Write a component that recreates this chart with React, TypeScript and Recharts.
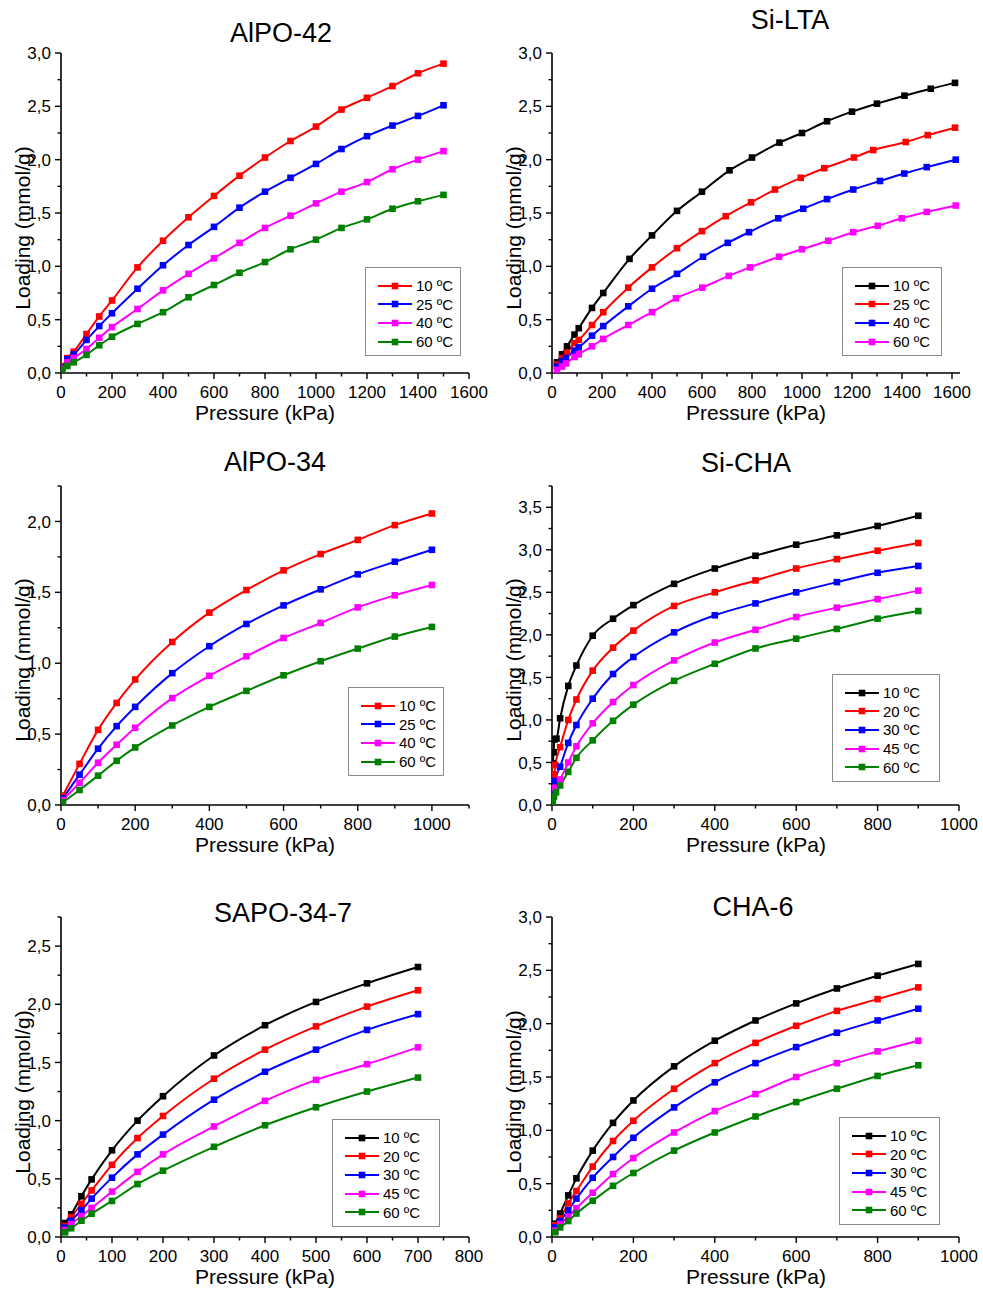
import React from 'react'
import { LineChart, Line, XAxis, YAxis } from 'recharts'

const FONT = '"Liberation Sans", Arial, Helvetica, sans-serif'

const BLACK = '#000000'
const RED = '#ff0000'
const BLUE = '#0000ff'
const MAGENTA = '#ff00ff'
const GREEN = '#008000'

// ---------- AlPO-42 ----------
const alpo42P = [5, 25, 50, 100, 150, 200, 300, 400, 500, 600, 700, 800, 900, 1000, 1100, 1200, 1300, 1400, 1500]
const alpo42T10 = [0.06, 0.14, 0.2, 0.365, 0.53, 0.68, 0.99, 1.24, 1.46, 1.66, 1.85, 2.02, 2.175, 2.31, 2.47, 2.58, 2.69, 2.81, 2.9]
const alpo42T25 = [0.05, 0.13, 0.175, 0.31, 0.44, 0.56, 0.79, 1.01, 1.2, 1.37, 1.55, 1.7, 1.83, 1.96, 2.1, 2.22, 2.32, 2.41, 2.51]
const alpo42T40 = [0.04, 0.1, 0.14, 0.225, 0.33, 0.43, 0.6, 0.775, 0.93, 1.075, 1.22, 1.36, 1.475, 1.59, 1.7, 1.79, 1.91, 2.0, 2.08]
const alpo42T60 = [0.03, 0.066, 0.1, 0.17, 0.26, 0.34, 0.46, 0.57, 0.71, 0.825, 0.94, 1.04, 1.16, 1.25, 1.36, 1.44, 1.54, 1.61, 1.67]

// ---------- Si-LTA ----------
const silta10P = [20, 40, 60, 90, 107, 160, 205, 310, 400, 500, 600, 710, 800, 910, 1000, 1100, 1200, 1300, 1410, 1515, 1612]
const silta10 = [0.1, 0.175, 0.25, 0.36, 0.42, 0.61, 0.75, 1.07, 1.29, 1.52, 1.7, 1.9, 2.02, 2.16, 2.25, 2.36, 2.45, 2.525, 2.6, 2.665, 2.72]
const silta25P = [20, 40, 60, 90, 107, 160, 205, 305, 400, 500, 600, 695, 796, 892, 995, 1089, 1208, 1285, 1415, 1503, 1612]
const silta25 = [0.08, 0.14, 0.19, 0.28, 0.31, 0.45, 0.57, 0.8, 0.99, 1.17, 1.33, 1.47, 1.6, 1.72, 1.83, 1.92, 2.02, 2.09, 2.165, 2.23, 2.3]
const silta40P = [20, 40, 56, 90, 107, 160, 205, 305, 400, 500, 604, 703, 788, 905, 1005, 1100, 1205, 1312, 1409, 1499, 1615]
const silta40 = [0.06, 0.11, 0.14, 0.21, 0.24, 0.35, 0.44, 0.625, 0.79, 0.93, 1.09, 1.22, 1.32, 1.45, 1.54, 1.63, 1.72, 1.8, 1.87, 1.93, 2.0]
const silta60P = [20, 40, 56, 90, 107, 160, 205, 305, 400, 496, 601, 707, 792, 908, 1000, 1105, 1205, 1303, 1399, 1499, 1615]
const silta60 = [0.03, 0.06, 0.09, 0.15, 0.175, 0.25, 0.32, 0.45, 0.57, 0.7, 0.8, 0.91, 0.99, 1.09, 1.16, 1.24, 1.32, 1.38, 1.45, 1.51, 1.57]

// ---------- AlPO-34 ----------
const alpo34P = [5, 50, 100, 150, 200, 300, 400, 500, 600, 700, 800, 900, 1000]
const alpo34T10 = [0.066, 0.29, 0.53, 0.72, 0.885, 1.15, 1.357, 1.516, 1.655, 1.77, 1.87, 1.974, 2.056]
const alpo34T25 = [0.047, 0.214, 0.397, 0.556, 0.692, 0.93, 1.12, 1.277, 1.408, 1.521, 1.627, 1.716, 1.8]
const alpo34T40 = [0.035, 0.157, 0.298, 0.425, 0.545, 0.754, 0.911, 1.049, 1.178, 1.284, 1.394, 1.479, 1.552]
const alpo34T60 = [0.019, 0.106, 0.207, 0.312, 0.406, 0.561, 0.692, 0.805, 0.915, 1.014, 1.103, 1.188, 1.256]

// ---------- Si-CHA ----------
const sicha10P = [2, 4, 6, 11, 20, 40, 60, 100, 150, 200, 300, 400, 500, 600, 700, 800, 900]
const sicha10 = [0.49, 0.62, 0.77, 0.78, 1.02, 1.4, 1.64, 1.99, 2.19, 2.35, 2.6, 2.78, 2.93, 3.06, 3.17, 3.28, 3.4]
const sicha20P = [3, 6, 8, 20, 40, 60, 100, 150, 200, 300, 400, 500, 600, 700, 800, 900]
const sicha20 = [0.22, 0.36, 0.47, 0.68, 1.0, 1.24, 1.58, 1.85, 2.05, 2.34, 2.5, 2.64, 2.78, 2.89, 2.99, 3.08]
const sicha30P = [3, 7, 20, 40, 60, 100, 150, 200, 300, 400, 500, 600, 700, 800, 900]
const sicha30 = [0.15, 0.28, 0.45, 0.73, 0.94, 1.25, 1.54, 1.74, 2.03, 2.23, 2.37, 2.5, 2.62, 2.73, 2.81]
const sicha45P = [3, 7, 20, 40, 60, 100, 150, 200, 300, 400, 500, 600, 700, 800, 900]
const sicha45 = [0.1, 0.2, 0.3, 0.5, 0.69, 0.96, 1.21, 1.41, 1.7, 1.91, 2.06, 2.21, 2.32, 2.42, 2.52]
const sicha60P = [2, 5, 10, 20, 40, 60, 100, 150, 200, 300, 400, 500, 600, 700, 800, 900]
const sicha60 = [0.03, 0.1, 0.15, 0.23, 0.39, 0.555, 0.76, 0.99, 1.18, 1.46, 1.66, 1.84, 1.955, 2.07, 2.19, 2.28]

// ---------- SAPO-34-7 ----------
const sapoP = [8, 20, 40, 60, 100, 150, 200, 300, 400, 500, 600, 700]
const sapoT10 = [0.12, 0.195, 0.35, 0.495, 0.745, 1.0, 1.21, 1.56, 1.82, 2.02, 2.18, 2.32]
const sapoT20 = [0.095, 0.17, 0.285, 0.4, 0.62, 0.85, 1.04, 1.36, 1.61, 1.81, 1.98, 2.12]
const sapoT30 = [0.08, 0.14, 0.23, 0.33, 0.51, 0.71, 0.88, 1.18, 1.42, 1.61, 1.78, 1.915]
const sapoT45 = [0.06, 0.11, 0.18, 0.25, 0.39, 0.56, 0.71, 0.95, 1.17, 1.35, 1.485, 1.63]
const sapoT60 = [0.04, 0.075, 0.14, 0.2, 0.31, 0.455, 0.57, 0.775, 0.96, 1.115, 1.25, 1.37]

// ---------- CHA-6 ----------
const cha6P = [8, 20, 40, 60, 100, 150, 200, 300, 400, 500, 600, 700, 800, 900]
const cha6T10 = [0.125, 0.22, 0.39, 0.55, 0.81, 1.07, 1.28, 1.6, 1.84, 2.03, 2.19, 2.33, 2.45, 2.56]
const cha6T20 = [0.11, 0.175, 0.315, 0.43, 0.66, 0.9, 1.09, 1.39, 1.63, 1.82, 1.98, 2.12, 2.23, 2.34]
const cha6T30 = [0.09, 0.15, 0.25, 0.36, 0.555, 0.75, 0.93, 1.215, 1.45, 1.63, 1.78, 1.915, 2.03, 2.14]
const cha6T45 = [0.06, 0.12, 0.19, 0.27, 0.415, 0.59, 0.74, 0.98, 1.18, 1.34, 1.5, 1.63, 1.74, 1.84]
const cha6T60 = [0.045, 0.09, 0.15, 0.22, 0.34, 0.48, 0.6, 0.81, 0.98, 1.13, 1.265, 1.39, 1.51, 1.61]

// ---------- axis ticks ----------
const ticks1600 = [0, 100, 200, 300, 400, 500, 600, 700, 800, 900, 1000, 1100, 1200, 1300, 1400, 1500, 1600]
const ticks1100 = [0, 100, 200, 300, 400, 500, 600, 700, 800, 900, 1000, 1100]
const ticks1000 = [0, 100, 200, 300, 400, 500, 600, 700, 800, 900, 1000]
const ticks800 = [0, 50, 100, 150, 200, 250, 300, 350, 400, 450, 500, 550, 600, 650, 700, 750, 800]
const yTicks300 = [0, 0.25, 0.5, 0.75, 1, 1.25, 1.5, 1.75, 2, 2.25, 2.5, 2.75, 3]
const yTicks225 = [0, 0.25, 0.5, 0.75, 1, 1.25, 1.5, 1.75, 2, 2.25]
const yTicks375 = [0, 0.25, 0.5, 0.75, 1, 1.25, 1.5, 1.75, 2, 2.25, 2.5, 2.75, 3, 3.25, 3.5, 3.75]
const yTicks275 = [0, 0.25, 0.5, 0.75, 1, 1.25, 1.5, 1.75, 2, 2.25, 2.5, 2.75]

type Series = { name: string; color: string; p: number[]; q: number[] }

type Panel = {
  title: string
  box: number[] // x, y, w, h
  plot: number[] // left, top, right, bottom (page px)
  xMax: number
  yMax: number
  xTicks: number[]
  xStep: number
  yTicks: number[]
  titleAt: number[]
  xLabelAt: number[]
  yLabelAt: number[]
  legend: number[] // left, top, width
  series: Series[]
}

const panels: Panel[] = [
  {
    title: 'AlPO-42', box: [0, 0, 490, 430], plot: [61, 53, 469, 373],
    xMax: 1600, yMax: 3, xTicks: ticks1600, xStep: 200, yTicks: yTicks300,
    titleAt: [281, 33], xLabelAt: [265, 412], yLabelAt: [22, 228], legend: [365, 267, 96],
    series: [
      { name: '10 ºC', color: RED, p: alpo42P, q: alpo42T10 },
      { name: '25 ºC', color: BLUE, p: alpo42P, q: alpo42T25 },
      { name: '40 ºC', color: MAGENTA, p: alpo42P, q: alpo42T40 },
      { name: '60 ºC', color: GREEN, p: alpo42P, q: alpo42T60 },
    ],
  },
  {
    title: 'Si-LTA', box: [490, 0, 493, 430], plot: [552, 53, 960, 373],
    xMax: 1632, yMax: 3, xTicks: ticks1600, xStep: 200, yTicks: yTicks300,
    titleAt: [790, 20], xLabelAt: [756, 412], yLabelAt: [513, 228], legend: [842, 267, 100],
    series: [
      { name: '10 ºC', color: BLACK, p: silta10P, q: silta10 },
      { name: '25 ºC', color: RED, p: silta25P, q: silta25 },
      { name: '40 ºC', color: BLUE, p: silta40P, q: silta40 },
      { name: '60 ºC', color: MAGENTA, p: silta60P, q: silta60 },
    ],
  },
  {
    title: 'AlPO-34', box: [0, 430, 490, 430], plot: [61, 486, 469, 805],
    xMax: 1100, yMax: 2.25, xTicks: ticks1100, xStep: 200, yTicks: yTicks225,
    titleAt: [275, 462], xLabelAt: [265, 844], yLabelAt: [22, 660], legend: [348, 687, 96],
    series: [
      { name: '10 ºC', color: RED, p: alpo34P, q: alpo34T10 },
      { name: '25 ºC', color: BLUE, p: alpo34P, q: alpo34T25 },
      { name: '40 ºC', color: MAGENTA, p: alpo34P, q: alpo34T40 },
      { name: '60 ºC', color: GREEN, p: alpo34P, q: alpo34T60 },
    ],
  },
  {
    title: 'Si-CHA', box: [490, 430, 493, 430], plot: [552, 486, 959, 805],
    xMax: 1000, yMax: 3.75, xTicks: ticks1000, xStep: 200, yTicks: yTicks375,
    titleAt: [746, 463], xLabelAt: [756, 844], yLabelAt: [513, 660], legend: [832, 674, 108],
    series: [
      { name: '10 ºC', color: BLACK, p: sicha10P, q: sicha10 },
      { name: '20 ºC', color: RED, p: sicha20P, q: sicha20 },
      { name: '30 ºC', color: BLUE, p: sicha30P, q: sicha30 },
      { name: '45 ºC', color: MAGENTA, p: sicha45P, q: sicha45 },
      { name: '60 ºC', color: GREEN, p: sicha60P, q: sicha60 },
    ],
  },
  {
    title: 'SAPO-34-7', box: [0, 860, 490, 430], plot: [61, 917, 469, 1237],
    xMax: 800, yMax: 2.75, xTicks: ticks800, xStep: 100, yTicks: yTicks275,
    titleAt: [283, 913], xLabelAt: [265, 1276], yLabelAt: [22, 1092], legend: [332, 1119, 108],
    series: [
      { name: '10 ºC', color: BLACK, p: sapoP, q: sapoT10 },
      { name: '20 ºC', color: RED, p: sapoP, q: sapoT20 },
      { name: '30 ºC', color: BLUE, p: sapoP, q: sapoT30 },
      { name: '45 ºC', color: MAGENTA, p: sapoP, q: sapoT45 },
      { name: '60 ºC', color: GREEN, p: sapoP, q: sapoT60 },
    ],
  },
  {
    title: 'CHA-6', box: [490, 860, 493, 430], plot: [552, 917, 959, 1237],
    xMax: 1000, yMax: 3, xTicks: ticks1000, xStep: 200, yTicks: yTicks300,
    titleAt: [753, 907], xLabelAt: [756, 1276], yLabelAt: [513, 1092], legend: [839, 1117, 101],
    series: [
      { name: '10 ºC', color: BLACK, p: cha6P, q: cha6T10 },
      { name: '20 ºC', color: RED, p: cha6P, q: cha6T20 },
      { name: '30 ºC', color: BLUE, p: cha6P, q: cha6T30 },
      { name: '45 ºC', color: MAGENTA, p: cha6P, q: cha6T45 },
      { name: '60 ºC', color: GREEN, p: cha6P, q: cha6T60 },
    ],
  },
]

const Y_AXIS_W = 40
const X_AXIS_H = 30

const isMajor = (v: number, step: number) => Math.abs(v / step - Math.round(v / step)) < 1e-6

function xTick(props: any, step: number) {
  const { x, y, payload } = props
  const major = isMajor(payload.value, step)
  return (
    <g>
      <line x1={x} x2={x} y1={y} y2={y + (major ? 6 : 3.5)} stroke="#000" strokeWidth={1.4} />
      {major && (
        <text x={x} y={y + 25} textAnchor="middle" fontSize={17} fontFamily={FONT} fill="#000">
          {payload.value}
        </text>
      )}
    </g>
  )
}

function yTick(props: any) {
  const { x, y, payload } = props
  const major = isMajor(payload.value, 0.5)
  return (
    <g>
      <line x1={x} x2={x - (major ? 6 : 3.5)} y1={y} y2={y} stroke="#000" strokeWidth={1.4} />
      {major && (
        <text x={x - 10} y={y} dy="0.36em" textAnchor="end" fontSize={17} fontFamily={FONT} fill="#000">
          {payload.value.toFixed(1).replace('.', ',')}
        </text>
      )}
    </g>
  )
}

const squareDot = (color: string) => (props: any) => {
  const { cx, cy, index } = props
  if (cx == null || cy == null) return <g key={index} />
  return <rect key={index} x={cx - 3.3} y={cy - 3.3} width={6.6} height={6.6} fill={color} />
}

function PanelChart({ panel }: { panel: Panel }) {
  const [bx, by, bw, bh] = panel.box
  const [pl, pt, pr, pb] = panel.plot
  return (
    <div style={{ position: 'absolute', left: bx, top: by, width: bw, height: bh }}>
      <LineChart
        width={bw}
        height={bh}
        margin={{ left: pl - bx - Y_AXIS_W, top: pt - by, right: bx + bw - pr, bottom: by + bh - pb - X_AXIS_H }}
        style={{ overflow: 'visible' }}
      >
        <XAxis
          type="number"
          dataKey="p"
          domain={[0, panel.xMax]}
          ticks={panel.xTicks}
          interval={0}
          height={X_AXIS_H}
          tickSize={0}
          tickMargin={0}
          axisLine={{ stroke: '#000', strokeWidth: 1.6 }}
          tickLine={false}
          tick={(p: any) => xTick(p, panel.xStep)}
          allowDataOverflow
        />
        <YAxis
          type="number"
          dataKey="q"
          domain={[0, panel.yMax]}
          ticks={panel.yTicks}
          interval={0}
          width={Y_AXIS_W}
          tickSize={0}
          tickMargin={0}
          axisLine={{ stroke: '#000', strokeWidth: 1.6 }}
          tickLine={false}
          tick={yTick}
          allowDataOverflow
        />
        {panel.series.map((s) => (
          <Line
            key={s.name}
            data={s.p.map((p, i) => ({ p, q: s.q[i] }))}
            dataKey="q"
            name={s.name}
            type="monotone"
            stroke={s.color}
            strokeWidth={2}
            dot={squareDot(s.color)}
            activeDot={false}
            isAnimationActive={false}
          />
        ))}
      </LineChart>
    </div>
  )
}

function PanelLegend({ panel }: { panel: Panel }) {
  const [lx, ly, lw] = panel.legend
  const n = panel.series.length
  const rowH = 18.7
  const h = 17.5 + (n - 1) * rowH + 15.5
  return (
    <div
      style={{
        position: 'absolute', left: lx, top: ly, width: lw, height: h,
        border: '1px solid #8a8a8a', boxSizing: 'border-box', background: '#fff',
      }}
    >
      {panel.series.map((s, i) => (
        <div
          key={s.name}
          style={{ position: 'absolute', left: 0, top: 17.5 + i * rowH - 10, height: 20, width: lw, display: 'flex', alignItems: 'center' }}
        >
          <svg width={50} height={20} style={{ flex: 'none' }}>
            <line x1={12} x2={46} y1={10} y2={10} stroke={s.color} strokeWidth={2} />
            <rect x={29 - 3.3} y={10 - 3.3} width={6.6} height={6.6} fill={s.color} />
          </svg>
          <span style={{ fontFamily: FONT, fontSize: 15, color: '#000', whiteSpace: 'nowrap', lineHeight: 1 }}>{s.name}</span>
        </div>
      ))}
    </div>
  )
}

const centered: React.CSSProperties = {
  position: 'absolute', whiteSpace: 'nowrap', fontFamily: FONT, color: '#000', lineHeight: 1,
}

export default function App() {
  return (
    <div style={{ position: 'absolute', left: 0, top: 0, width: 983, height: 1290, background: '#fff', overflow: 'hidden' }}>
      {panels.map((panel) => (
        <React.Fragment key={panel.title}>
          <PanelChart panel={panel} />
          <div style={{ ...centered, left: panel.titleAt[0], top: panel.titleAt[1], fontSize: 27, transform: 'translate(-50%, -50%)' }}>
            {panel.title}
          </div>
          <div style={{ ...centered, left: panel.xLabelAt[0], top: panel.xLabelAt[1], fontSize: 21, transform: 'translate(-50%, -50%)' }}>
            Pressure (kPa)
          </div>
          <div style={{ ...centered, left: panel.yLabelAt[0], top: panel.yLabelAt[1], fontSize: 21, transform: 'translate(-50%, -50%) rotate(-90deg)' }}>
            Loading (mmol/g)
          </div>
          <PanelLegend panel={panel} />
        </React.Fragment>
      ))}
    </div>
  )
}
